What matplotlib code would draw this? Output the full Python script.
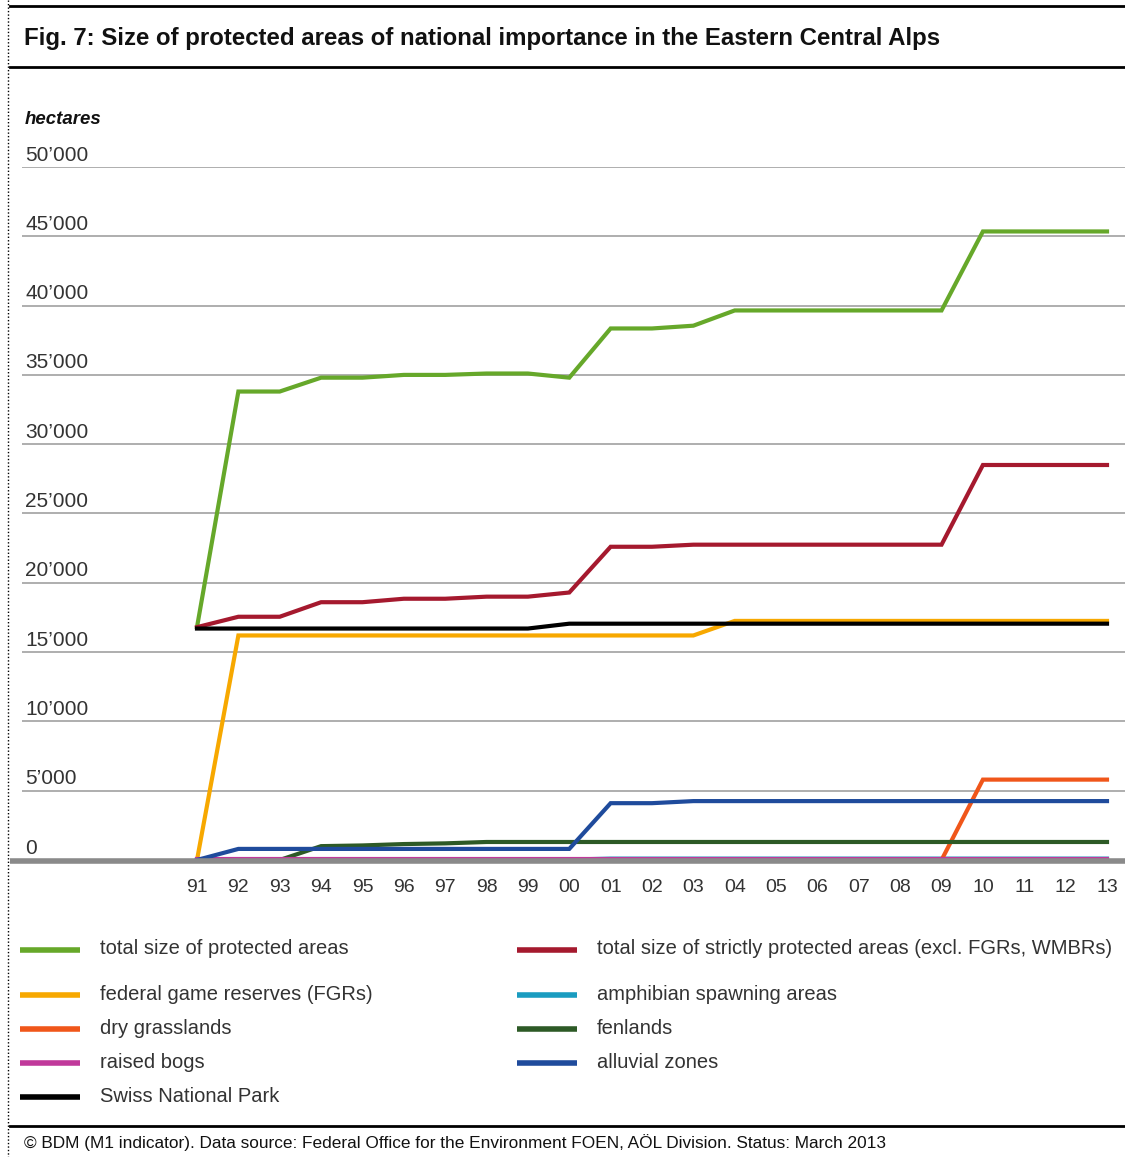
import matplotlib
matplotlib.use("Agg")
import matplotlib.pyplot as plt

plt.rcParams['font.family'] = ['Liberation Sans', 'DejaVu Sans']

years = ['91', '92', '93', '94', '95', '96', '97', '98', '99', '00', '01', '02',
         '03', '04', '05', '06', '07', '08', '09', '10', '11', '12', '13']

total_protected = [16800, 33800, 33800, 34800, 34800, 35000, 35000, 35100, 35100, 34800,
                   38350, 38350, 38550, 39650, 39650, 39650, 39650, 39650, 39650,
                   45350, 45350, 45350, 45350]
strictly_protected = [16800, 17550, 17550, 18600, 18600, 18850, 18850, 19000, 19000, 19300,
                      22600, 22600, 22750, 22750, 22750, 22750, 22750, 22750, 22750,
                      28500, 28500, 28500, 28500]
game_reserves = [0, 16200, 16200, 16200, 16200, 16200, 16200, 16200, 16200, 16200,
                 16200, 16200, 16200, 17250, 17250, 17250, 17250, 17250, 17250,
                 17250, 17250, 17250, 17250]
amphibian = [30, 30, 30, 30, 30, 30, 30, 30, 30, 30,
             100, 100, 100, 100, 100, 100, 100, 100, 100, 100, 100, 100, 100]
dry_grasslands = [0, 0, 0, 0, 0, 0, 0, 0, 0, 0,
                  0, 0, 0, 0, 0, 0, 0, 0, 0,
                  5800, 5800, 5800, 5800]
fenlands = [0, 0, 0, 1000, 1050, 1150, 1200, 1300, 1300, 1300,
            1300, 1300, 1300, 1300, 1300, 1300, 1300, 1300, 1300, 1300, 1300, 1300, 1300]
raised_bogs = [50, 50, 50, 50, 50, 50, 50, 50, 50, 50,
               50, 50, 50, 50, 50, 50, 50, 50, 50, 50, 50, 50, 50]
alluvial = [0, 800, 800, 800, 800, 800, 800, 800, 800, 800,
            4100, 4100, 4250, 4250, 4250, 4250, 4250, 4250, 4250, 4250, 4250, 4250, 4250]
national_park = [16700, 16700, 16700, 16700, 16700, 16700, 16700, 16700, 16700, 17050,
                 17050, 17050, 17050, 17050, 17050, 17050, 17050, 17050, 17050,
                 17050, 17050, 17050, 17050]

y_ticks = [0, 5000, 10000, 15000, 20000, 25000, 30000, 35000, 40000, 45000, 50000]
y_tick_labels = ['0', '5’000', '10’000', '15’000', '20’000', '25’000', '30’000',
                 '35’000', '40’000', '45’000', '50’000']

series = [
    ('total size of protected areas', total_protected, '#66a82a'),
    ('total size of strictly protected areas (excl. FGRs, WMBRs)', strictly_protected, '#a5192e'),
    ('federal game reserves (FGRs)', game_reserves, '#f7a800'),
    ('amphibian spawning areas', amphibian, '#1a9cc0'),
    ('dry grasslands', dry_grasslands, '#f0561a'),
    ('fenlands', fenlands, '#2d5a26'),
    ('raised bogs', raised_bogs, '#c0399a'),
    ('alluvial zones', alluvial, '#1f4b9c'),
    ('Swiss National Park', national_park, '#000000'),
]

W, H = 1125, 1157
fig = plt.figure(figsize=(W / 100, H / 100), dpi=100)

# main axes (pixel geometry: x 22..1125, y=0 at 860, 50000 at 167)
ax = fig.add_axes([22 / W, (H - 860) / H, (W - 22) / W, 693 / H])
x = list(range(len(years)))
px_per_idx = (1107 - 197) / 22
ax.set_xlim((22 - 197) / px_per_idx, (1125 - 197) / px_per_idx)
ax.set_ylim(0, 50000)
for s in ax.spines.values():
    s.set_visible(False)
for v in y_ticks[1:]:
    ax.axhline(v, color='#a8a8a8', lw=1.3, zorder=1)
ax.set_yticks([])
ax.set_xticks(x)
ax.set_xticklabels(years, fontsize=14, color='#333333')
ax.tick_params(axis='x', length=0, pad=14)
for v, lab in zip(y_ticks, y_tick_labels):
    ax.text(0.003, v + 180, lab, transform=ax.get_yaxis_transform(), fontsize=15,
            color='#333333', ha='left', va='bottom')

for i in range(len(series)):
    name, vals, col = series[i]
    ax.plot(x, vals, color=col, lw=3, solid_joinstyle='miter', zorder=3 + i * 0.1,
            clip_on=False)

# overlay for frame, title, legend
ov = fig.add_axes([0, 0, 1, 1], zorder=-1)
ov.set_xlim(0, W)
ov.set_ylim(H, 0)
ov.axis('off')
ov.plot([10, W], [6, 6], color='black', lw=2)
ov.plot([10, W], [67, 67], color='black', lw=2)
ov.plot([10, W], [1126, 1126], color='black', lw=2)
ov.plot([8, 8], [0, H], color='black', lw=1, ls=(0, (1, 1.5)))

ov2 = fig.add_axes([0, 0, 1, 1], zorder=5)
ov2.set_xlim(0, W)
ov2.set_ylim(H, 0)
ov2.axis('off')
ov2.plot([10, W], [861, 861], color='#8a8a8a', lw=4, solid_capstyle='butt', zorder=1)

ov.text(24, 38, 'Fig. 7: Size of protected areas of national importance in the Eastern Central Alps',
        fontsize=17.3, fontweight='bold', ha='left', va='center', color='#111111')
ov.text(25, 119, 'hectares', fontsize=13.4, fontweight='bold', style='italic',
        ha='left', va='center', color='#111111')
ov.text(24, 1143, '© BDM (M1 indicator). Data source: Federal Office for the Environment FOEN, '
        'AÖL Division. Status: March 2013', fontsize=12.4, ha='left', va='center',
        color='#111111')

legend_slots = [(0, 20, 950), (1, 517, 950), (2, 20, 995), (3, 517, 995), (4, 20, 1029),
                (5, 517, 1029), (6, 20, 1063), (7, 517, 1063), (8, 20, 1097)]
for idx, lx, ly in legend_slots:
    name, vals, col = series[idx]
    ov.plot([lx, lx + 60], [ly, ly], color=col, lw=4, solid_capstyle='butt')
    ov.text(lx + 80, ly - 1, name, fontsize=14.5, color='#333333', ha='left', va='center')

fig.savefig('out.png', dpi=100)
